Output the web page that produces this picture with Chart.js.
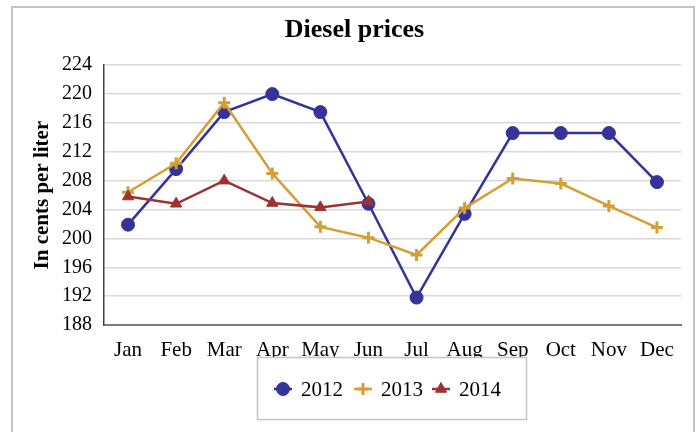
<!DOCTYPE html>
<html>
<head>
<meta charset="utf-8">
<script src="https://cdn.jsdelivr.net/npm/chart.js@4/dist/chart.umd.min.js"></script>
<style>
  html, body { margin: 0; padding: 0; background: #ffffff; }
  #wrap { width: 697px; height: 432px; }
</style>
</head>
<body>
<div id="wrap"><canvas id="chart" width="697" height="432"></canvas></div>
<script>
// Monthly diesel prices, cents per liter
const months = ['Jan', 'Feb', 'Mar', 'Apr', 'May', 'Jun', 'Jul', 'Aug', 'Sep', 'Oct', 'Nov', 'Dec'];
const prices2012 = [201.9, 209.6, 217.5, 220.0, 217.5, 204.8, 191.8, 203.4, 214.6, 214.6, 214.6, 207.8];
const prices2013 = [206.4, 210.4, 218.8, 209.0, 201.6, 200.1, 197.7, 204.2, 208.3, 207.6, 204.5, 201.5];
const prices2014 = [205.8, 204.8, 208.0, 204.9, 204.3, 205.1];
const yTicks = { min: 188, max: 224, step: 4 };

const SERIF = "'Liberation Serif', 'Times New Roman', serif";
const BLUE = '#333399';
const GOLD = '#d69f36';
const RED = '#9c3333';

// Outer frame around the whole figure
const framePlugin = {
  id: 'frame',
  beforeDraw(chart) {
    const ctx = chart.ctx;
    ctx.save();
    ctx.fillStyle = '#ffffff';
    ctx.fillRect(0, 0, chart.width, chart.height);
    ctx.strokeStyle = '#c4c4c4';
    ctx.lineWidth = 2;
    ctx.strokeRect(12, 7, 682, 440);
    ctx.restore();
  }
};

// Rotated y-axis caption
const yCaptionPlugin = {
  id: 'yCaption',
  afterDraw(chart) {
    const ctx = chart.ctx;
    const area = chart.chartArea;
    ctx.save();
    ctx.translate(43, (area.top + area.bottom) / 2);
    ctx.rotate(-Math.PI / 2);
    ctx.font = 'bold 21px ' + SERIF;
    ctx.fillStyle = '#000000';
    ctx.textAlign = 'center';
    ctx.textBaseline = 'middle';
    ctx.fillText('In cents per liter', 0, 0);
    ctx.restore();
  }
};

// Boxed legend below the axis, built from the datasets
const boxLegendPlugin = {
  id: 'boxLegend',
  afterDraw(chart) {
    const ctx = chart.ctx;
    const box = { x: 257.5, y: 357.5, w: 269, h: 62 };
    ctx.save();
    ctx.fillStyle = '#ffffff';
    ctx.fillRect(box.x, box.y, box.w, box.h);
    ctx.strokeStyle = '#c4c4c4';
    ctx.lineWidth = 1.5;
    ctx.strokeRect(box.x, box.y, box.w, box.h);
    const cy = 389;
    const itemX = [283, 363, 441];
    chart.data.datasets.forEach((ds, i) => {
      const mx = itemX[i];
      ctx.strokeStyle = ds.borderColor;
      ctx.lineWidth = 2.5;
      ctx.beginPath();
      ctx.moveTo(mx - 9, cy);
      ctx.lineTo(mx + 9, cy);
      ctx.stroke();
      ctx.fillStyle = ds.pointBackgroundColor;
      ctx.strokeStyle = ds.pointBorderColor;
      ctx.lineWidth = ds.pointBorderWidth;
      Chart.helpers.drawPoint(ctx, {
        pointStyle: ds.pointStyle,
        radius: ds.pointRadius,
        borderWidth: ds.pointBorderWidth,
        rotation: 0
      }, mx, cy);
      ctx.fillStyle = '#000000';
      ctx.font = '21px ' + SERIF;
      ctx.textAlign = 'left';
      ctx.textBaseline = 'middle';
      ctx.fillText(ds.label, mx + 18, cy + 1);
    });
    ctx.restore();
  }
};

function series(label, data, color, style, radius, bw, order) {
  return {
    label, data,
    borderColor: color,
    backgroundColor: color,
    borderWidth: 2.5,
    pointStyle: style,
    pointRadius: radius,
    pointHoverRadius: radius,
    pointBackgroundColor: color,
    pointBorderColor: color,
    pointBorderWidth: bw,
    tension: 0,
    order
  };
}

new Chart(document.getElementById('chart'), {
  type: 'line',
  data: {
    labels: months,
    datasets: [
      series('2012', prices2012, BLUE, 'circle', 6.5, 1, 3),
      series('2013', prices2013, GOLD, 'cross', 6, 3, 2),
      series('2014', prices2014, RED, 'triangle', 6.5, 1, 1)
    ]
  },
  options: {
    responsive: false,
    devicePixelRatio: 1,
    animation: false,
    layout: { padding: { left: 28, right: 16, top: 0, bottom: 0 } },
    plugins: {
      legend: { display: false },
      tooltip: { enabled: false },
      title: {
        display: true,
        text: 'Diesel prices',
        color: '#000000',
        font: { family: SERIF, size: 26, weight: 'bold' },
        padding: { top: 15, bottom: 19 }
      }
    },
    scales: {
      x: {
        offset: true,
        grid: { display: false, drawTicks: false },
        border: { display: true, color: '#7a7a7a', width: 2 },
        ticks: { color: '#000000', font: { family: SERIF, size: 21 }, padding: 13, maxRotation: 0, autoSkip: false },
        afterFit(scale) { scale.height = 107; }
      },
      y: {
        min: yTicks.min,
        max: yTicks.max,
        grid: { color: '#d9d9d9', lineWidth: 1.5, drawTicks: false },
        border: { display: true, color: '#404040', width: 1.5 },
        ticks: { stepSize: yTicks.step, color: '#000000', font: { family: SERIF, size: 20 }, padding: 12 },
        afterFit(scale) { scale.width = 76; }
      }
    }
  },
  plugins: [framePlugin, yCaptionPlugin, boxLegendPlugin]
});
</script>
</body>
</html>
